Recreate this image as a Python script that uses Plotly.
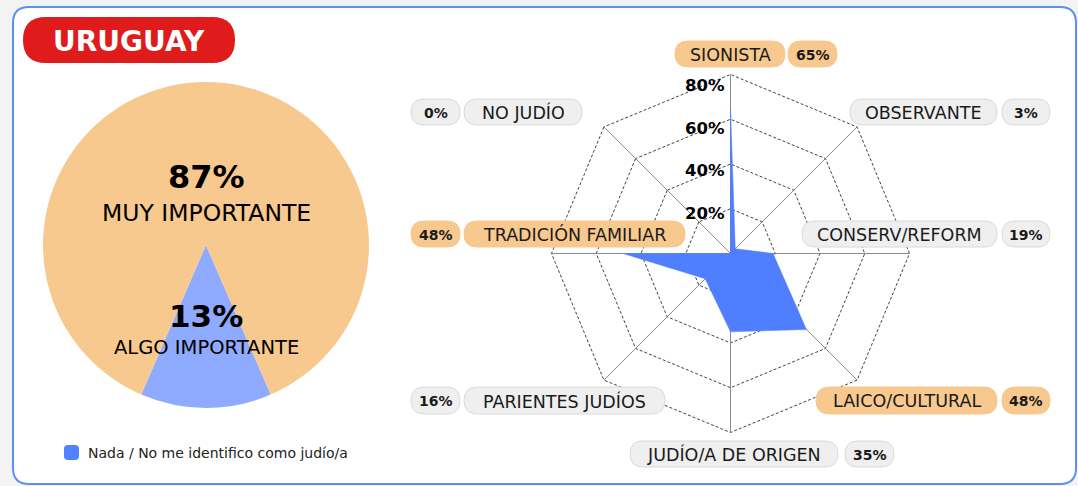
import plotly.graph_objects as go

# ---------------- data ----------------
country = "URUGUAY"

pie_labels = ["ALGO IMPORTANTE", "MUY IMPORTANTE", "Nada / No me identifico como judío/a"]
pie_values = [13, 87, 0]

radar_categories = ["SIONISTA", "OBSERVANTE", "CONSERV/REFORM", "LAICO/CULTURAL",
                    "JUDÍO/A DE ORIGEN", "PARIENTES JUDÍOS", "TRADICIÓN FAMILIAR", "NO JUDÍO"]
radar_values = [65, 3, 19, 48, 35, 16, 48, 0]

radial_ticks = [20, 40, 60, 80]

# ---------------- styles ----------------
W, H = 1078, 486
FONT = "DejaVu Sans, sans-serif"
ORANGE = "#F8C98E"
PIE_BLUE = "#8EABFF"
RADAR_BLUE = "#4F7FFF"
LEGEND_BLUE = "#5081FF"
GRAY_PILL = "#EFEFEF"
GRAY_BORDER = "#DADADA"
TXT = "#1A1A1A"


def X(px):
    return px / W


def Y(py):
    return 1 - py / H


def rr_path(x0, y0, x1, y1, r):
    """rounded rectangle path in paper coords from pixel box"""
    pts = [
        f"M {X(x0 + r)} {Y(y0)}",
        f"L {X(x1 - r)} {Y(y0)}",
        f"Q {X(x1)} {Y(y0)} {X(x1)} {Y(y0 + r)}",
        f"L {X(x1)} {Y(y1 - r)}",
        f"Q {X(x1)} {Y(y1)} {X(x1 - r)} {Y(y1)}",
        f"L {X(x0 + r)} {Y(y1)}",
        f"Q {X(x0)} {Y(y1)} {X(x0)} {Y(y1 - r)}",
        f"L {X(x0)} {Y(y0 + r)}",
        f"Q {X(x0)} {Y(y0)} {X(x0 + r)} {Y(y0)}",
        "Z",
    ]
    return " ".join(pts)


shapes = []
annotations = []

# card
shapes.append(dict(type="path", xref="paper", yref="paper", layer="below",
                   path=rr_path(13, 7, 1076, 484, 16),
                   fillcolor="white", line=dict(color="#5E8EF7", width=2)))
# country pill
shapes.append(dict(type="path", xref="paper", yref="paper", layer="below",
                   path=rr_path(23, 17, 235, 63, 23),
                   fillcolor="#E01B1B", line=dict(width=0)))
annotations.append(dict(x=X(129), y=Y(41), xref="paper", yref="paper", showarrow=False,
                        text=f"<b>{country}</b>", font=dict(family=FONT, size=28, color="white"),
                        xanchor="center", yanchor="middle"))

fig = go.Figure()

# ---------------- pie ----------------
pcx, pcy, pr = 206, 245, 163
blue_share = pie_values[0] / sum(pie_values)
fig.add_trace(go.Pie(
    labels=pie_labels, values=pie_values, sort=False, direction="clockwise",
    rotation=180 - blue_share * 360 / 2,
    marker=dict(colors=[PIE_BLUE, ORANGE, LEGEND_BLUE], line=dict(width=0)),
    textinfo="none", hoverinfo="label+percent", showlegend=False,
    domain=dict(x=[X(pcx - pr), X(pcx + pr)], y=[Y(pcy + pr), Y(pcy - pr)]),
))

annotations += [
    dict(x=X(206), y=Y(177), text=f"<b>{pie_values[1]}%</b>",
         font=dict(family=FONT, size=32, color="black")),
    dict(x=X(206), y=Y(213), text=pie_labels[1],
         font=dict(family=FONT, size=23.5, color="black")),
    dict(x=X(206), y=Y(316), text=f"<b>{pie_values[0]}%</b>",
         font=dict(family=FONT, size=31, color="black")),
    dict(x=X(206), y=Y(347), text=pie_labels[0],
         font=dict(family=FONT, size=19.5, color="black")),
]
# legend
shapes.append(dict(type="path", xref="paper", yref="paper",
                   path=rr_path(64, 445, 79, 460, 4), fillcolor=LEGEND_BLUE, line=dict(width=0)))
annotations.append(dict(x=X(86), y=Y(452.5), text=pie_labels[2], xanchor="left",
                        font=dict(family=FONT, size=14, color="#222")))

# ---------------- radar ----------------
rcx, rcy, rR0 = 730.5, 253.5, 179
top_tick = max(radial_ticks)
rmax = top_tick * 1.03
rR = rR0 * rmax / top_tick  # domain radius so that the top tick sits at rR0

# spokes (drawn under the filled area)
spoke_r, spoke_t = [], []
for c in radar_categories:
    spoke_r += [0, top_tick, None]
    spoke_t += [c, c, c]
fig.add_trace(go.Scatterpolar(r=spoke_r, theta=spoke_t, mode="lines",
                              line=dict(color="#8a8a8a", width=1),
                              hoverinfo="skip", showlegend=False))

fig.add_trace(go.Scatterpolar(
    r=radar_values + [radar_values[0]],
    theta=radar_categories + [radar_categories[0]],
    mode="lines", fill="toself", fillcolor=RADAR_BLUE,
    line=dict(color=RADAR_BLUE, width=0.5), showlegend=False,
))

fig.update_layout(polar=dict(
    domain=dict(x=[X(rcx - rR), X(rcx + rR)], y=[Y(rcy + rR), Y(rcy - rR)]),
    bgcolor="rgba(0,0,0,0)",
    gridshape="linear",
    radialaxis=dict(range=[0, rmax], tickvals=radial_ticks, showticklabels=False,
                    angle=90, showline=False,
                    gridcolor="#444", gridwidth=1, griddash="3px,2px",
                    ticks="", layer="below traces"),
    angularaxis=dict(rotation=90, direction="clockwise", showticklabels=False,
                     ticks="", showline=False, showgrid=False,
                     layer="below traces"),
))

# radial tick labels
for t in radial_ticks:
    annotations.append(dict(x=X(727), y=Y(rcy + 3 - rR0 * 0.957 * t / top_tick),
                            text=f"<b>{t}%</b>", xanchor="right",
                            font=dict(family=FONT, size=16.5, color="black")))

# pill labels (layout boxes per category: label box, pct box)
pill_boxes = {
    "SIONISTA": ((675, 41, 785, 67), (788, 41, 837, 67)),
    "OBSERVANTE": ((850, 99, 997, 125), (1002, 99, 1050, 125)),
    "CONSERV/REFORM": ((802, 221, 997, 247), (1002, 221, 1050, 247)),
    "LAICO/CULTURAL": ((816, 387, 997, 414), (1002, 387, 1050, 414)),
    "JUDÍO/A DE ORIGEN": ((630, 441, 838, 467), (845, 441, 894, 467)),
    "PARIENTES JUDÍOS": ((464, 387, 665, 414), (411, 387, 460, 414)),
    "TRADICIÓN FAMILIAR": ((464, 221, 685, 247), (411, 221, 460, 247)),
    "NO JUDÍO": ((464, 99, 582, 125), (411, 99, 460, 125)),
}
top3 = sorted(radar_values, reverse=True)[2]
for cat, val in zip(radar_categories, radar_values):
    hi = val >= top3
    fill = ORANGE if hi else GRAY_PILL
    border = ORANGE if hi else GRAY_BORDER
    (lb, pb) = pill_boxes[cat]
    for box, txt, size in ((lb, cat, 17.5), (pb, f"<b>{val}%</b>", 14)):
        x0, y0, x1, y1 = box
        shapes.append(dict(type="path", xref="paper", yref="paper",
                           path=rr_path(x0, y0, x1, y1, (y1 - y0) / 2),
                           fillcolor=fill, line=dict(color=border, width=1)))
        annotations.append(dict(x=X((x0 + x1) / 2), y=Y((y0 + y1) / 2 + 0.5), text=txt,
                                font=dict(family=FONT, size=size, color=TXT)))

for a in annotations:
    a.setdefault("xref", "paper")
    a.setdefault("yref", "paper")
    a.setdefault("showarrow", False)
    a.setdefault("xanchor", "center")
    a.setdefault("yanchor", "middle")

fig.update_layout(
    width=W, height=H, autosize=False,
    margin=dict(l=0, r=0, t=0, b=0),
    paper_bgcolor="#F3F3F3", plot_bgcolor="rgba(0,0,0,0)",
    shapes=shapes, annotations=annotations, showlegend=False,
)

fig.write_html("out.html", config={"displayModeBar": False},
               post_script="document.body.style.margin='0';"
                           "document.body.style.background='#F3F3F3';")
